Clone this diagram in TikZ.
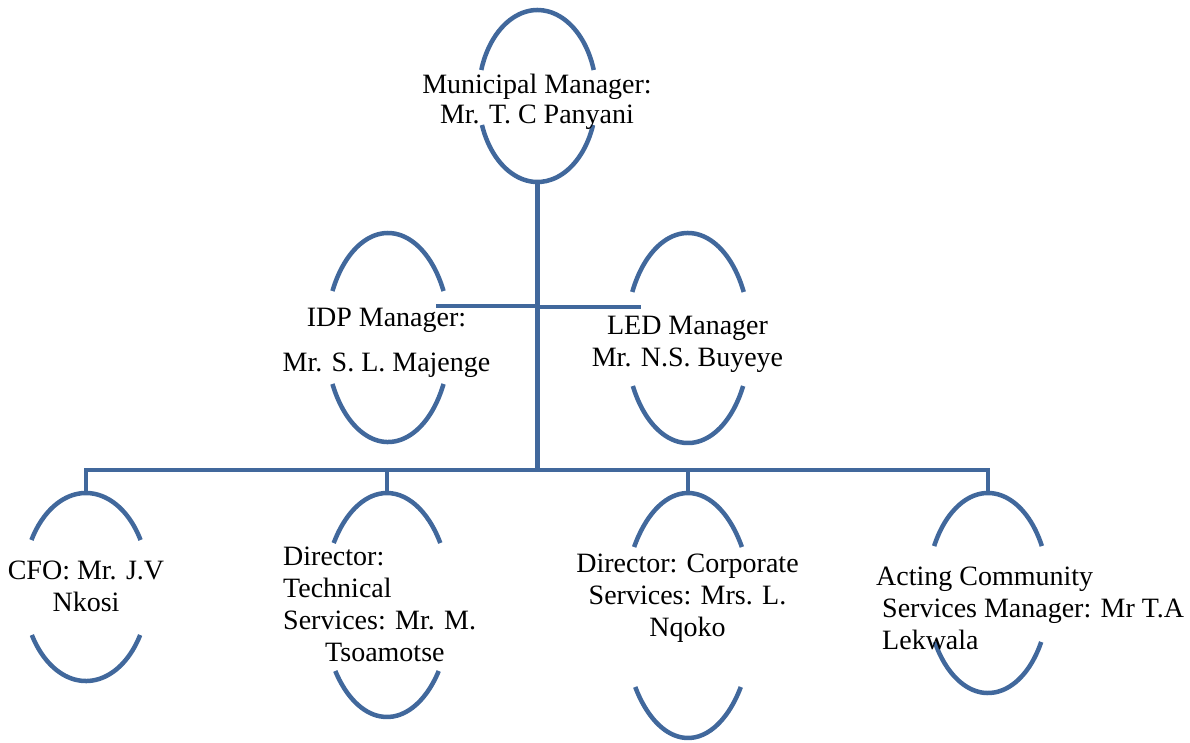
\documentclass[tikz,border=0pt]{standalone}
\usepackage{fontspec}
\setmainfont{Liberation Serif}
\usetikzlibrary{shapes.geometric}
\definecolor{orgblue}{RGB}{65,104,156}

\begin{document}
\begin{tikzpicture}[x=1pt, y=-1pt,
        orgline/.style={draw=orgblue, line width=4.5pt},
        person/.style={ellipse, inner sep=0pt, outer sep=0pt},
        nametext/.style={font=\fontsize{28}{32}\selectfont, inner sep=0pt, align=center}]
    \useasboundingbox (0,0) rectangle (1190,742);
    % ellipses, open at both sides
    \foreach \n/\x/\y/\rx/\ry/\a/\b [evaluate=\rx as \w using 2*\rx,
            evaluate=\ry as \h using 2*\ry,
            evaluate=\a as \aa using 180-\a,
            evaluate=\b as \bb using \b-180] in {mm/537.5/96/59/86/17.6/19.7,
            idp/388/337.5/62/104.5/26.4/26.4, led/688/338/62/105/26/27.2,
            cfo/86/587/63/94/30/30.7, tech/387/605/64/112/33.6/36.1,
            corp/688/615.5/65/122.5/34/35.7, comm/988/593/61/100/28/29.3} {
        \node[person, minimum width=\w pt, minimum height=\h pt] (\n) at (\x,\y) {};
        \draw[orgline] ([shift={(\a:\rx pt and \ry pt)}]\n.center)
            arc[start angle=\a, end angle=\aa, x radius=\rx pt, y radius=\ry pt];
        \draw[orgline] ([shift={(-\b:\rx pt and \ry pt)}]\n.center)
            arc[start angle=-\b, end angle=\bb, x radius=\rx pt, y radius=\ry pt];
    }
    \coordinate (bus) at (538,470);
    \coordinate (idp-link) at (436,306);
    \coordinate (led-link) at (641,307);
    \draw[orgline] (mm.south) -- (mm.south |- bus);
    \draw[orgline] (mm.south |- idp-link) -- (idp-link);
    \draw[orgline] (mm.south |- led-link) -- (led-link);
    \draw[orgline] (cfo.north) -- (cfo.north |- bus) -- (comm.north |- bus) -- (comm.north);
    \foreach \n in {tech,corp}
        \draw[orgline] (\n.north) -- (\n.north |- bus);
    % names
    \node[nametext, anchor=north] (mm-t) at (537,74) {Municipal Manager:\\[-2pt]Mr. T. C Panyani};
    \node[nametext, anchor=north] (idp-t) at (386.5,308) {IDP Manager:\\[13pt]Mr. S. L. Majenge};
    \node[nametext, anchor=north] (led-t) at (687.5,316) {LED Manager\\Mr. N.S. Buyeye};
    \node[nametext, anchor=north] (cfo-t) at (86,561) {CFO: Mr. J.V\\Nkosi};
    \node[nametext, anchor=north west, align=left] (tech-t) at (283,547)
        {Director:\\Technical\\Services: Mr. M.\\\hspace*{42pt}Tsoamotse};
    \node[nametext, anchor=north] (corp-t) at (687.5,554) {Director: Corporate\\Services: Mrs. L.\\Nqoko};
    \node[nametext, anchor=north west, align=left] (comm-t) at (876,567)
        {Acting Community\\\hspace*{6pt}Services Manager: Mr T.A\\\hspace*{6pt}Lekwala};
\end{tikzpicture}
\end{document}
